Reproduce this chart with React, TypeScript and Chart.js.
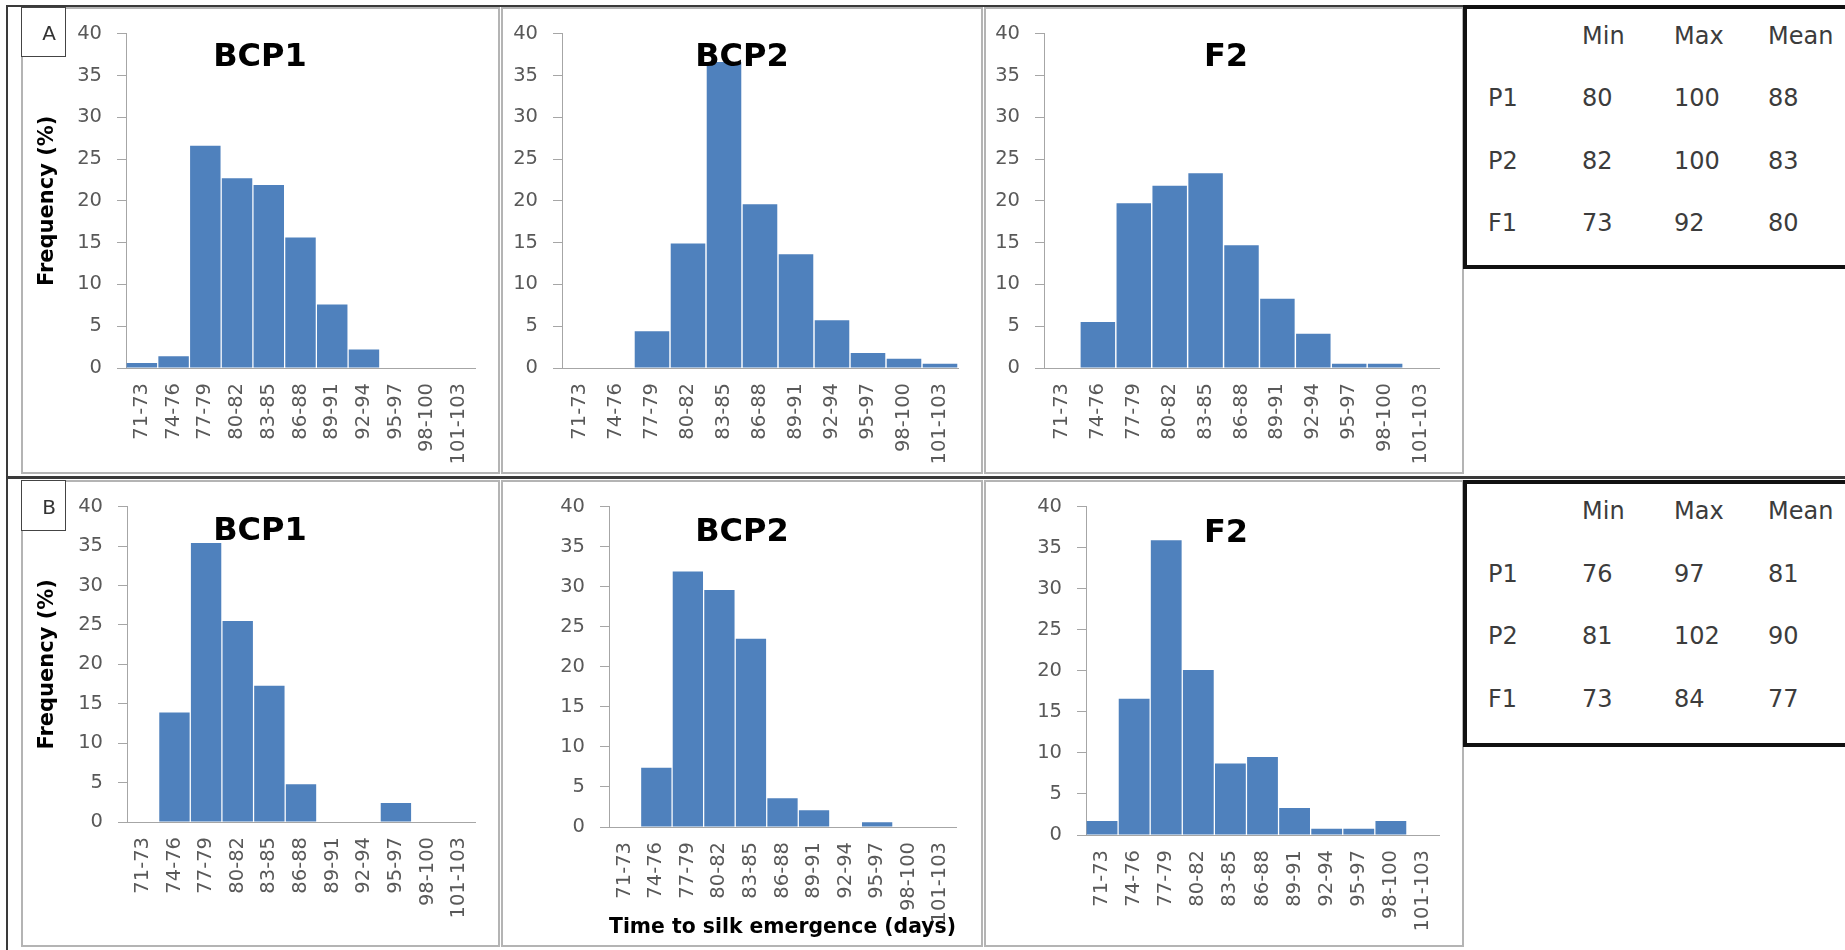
import React, { useEffect, useRef } from 'react';
import { Chart, registerables } from 'chart.js';

Chart.register(...registerables);

const FONT = "'DejaVu Sans', sans-serif";

// ---------- data ----------
const binLabels = ['71-73', '74-76', '77-79', '80-82', '83-85', '86-88', '89-91', '92-94', '95-97', '98-100', '101-103'];
const yAxisMin = 0;
const yAxisMax = 40;
const yAxisStep = 5;

const bcp1A = [0.6, 1.4, 26.6, 22.7, 21.9, 15.6, 7.6, 2.2, 0, 0, 0];
const bcp2A = [0, 0, 4.4, 14.9, 36.6, 19.6, 13.6, 5.7, 1.8, 1.1, 0.5];
const f2A = [0, 5.5, 19.7, 21.8, 23.3, 14.7, 8.3, 4.1, 0.5, 0.5, 0];
const bcp1B = [0, 13.9, 35.4, 25.5, 17.3, 4.8, 0, 0, 2.4, 0, 0];
const bcp2B = [0, 7.4, 31.9, 29.6, 23.5, 3.6, 2.1, 0, 0.6, 0, 0];
const f2B = [1.7, 16.6, 35.9, 20.1, 8.7, 9.5, 3.3, 0.75, 0.75, 1.7, 0];

const yAxisTitle = 'Frequency (%)';
const xAxisTitle = 'Time to silk emergence (days)';

const tableHeaders = ['Min', 'Max', 'Mean'];
const tableRowLabels = ['P1', 'P2', 'F1'];
const tableAValues = [[80, 100, 88], [82, 100, 83], [73, 92, 80]];
const tableBValues = [[76, 97, 81], [81, 102, 90], [73, 84, 77]];

// ---------- layout ----------
type Spec = {
  px: number; py: number; pw: number; ph: number;
  L: number; R: number; T: number; B: number;
  yTitle?: boolean; xTitle?: boolean;
  title: string; tx: number; ty: number;
  data: number[];
};

const specs: Spec[] = [
  { px: 21, py: 7, pw: 479, ph: 467, L: 126, R: 475, T: 29, B: 368, yTitle: true, title: 'BCP1', tx: 260, ty: 54, data: bcp1A },
  { px: 501, py: 7, pw: 482, ph: 467, L: 562, R: 958, T: 31, B: 368, title: 'BCP2', tx: 742, ty: 54, data: bcp2A },
  { px: 984, py: 7, pw: 480, ph: 467, L: 1044, R: 1439, T: 29, B: 368, title: 'F2', tx: 1226, ty: 54, data: f2A },
  { px: 21, py: 480, pw: 479, ph: 467, L: 127, R: 475, T: 495, B: 822, yTitle: true, title: 'BCP1', tx: 260, ty: 528, data: bcp1B },
  { px: 501, py: 480, pw: 482, ph: 467, L: 609, R: 956, T: 495, B: 827, xTitle: true, title: 'BCP2', tx: 742, ty: 529, data: bcp2B },
  { px: 984, py: 480, pw: 480, ph: 467, L: 1086, R: 1439, T: 495, B: 835, title: 'F2', tx: 1226, ty: 530, data: f2B },
];

const TICK_COLOR = '#595959';
const AXIS_COLOR = '#a6a6a6';
const BAR_COLOR = '#4f81bd';

function Histogram({ spec }: { spec: Spec }) {
  const ref = useRef<HTMLCanvasElement>(null);
  useEffect(() => {
    const { px, py, pw, ph, L, R, T, B, yTitle, xTitle, data } = spec;
    const padL = yTitle ? 48 - 16.6 - px : 4;
    const yW = L - px - padL;
    const padR = px + pw - R;
    const padT = T - py;
    const xH = py + ph - B;
    const chart = new Chart(ref.current as HTMLCanvasElement, {
      type: 'bar',
      data: {
        labels: binLabels,
        datasets: [
          {
            data,
            backgroundColor: BAR_COLOR,
            borderWidth: 0,
            barPercentage: 0.96,
            categoryPercentage: 1.0,
          },
        ],
      },
      options: {
        responsive: false,
        animation: false,
        layout: { padding: { left: padL, right: padR, top: padT, bottom: 0 } },
        plugins: { legend: { display: false }, tooltip: { enabled: false }, title: { display: false } },
        scales: {
          x: {
            type: 'category',
            grid: { display: true, drawOnChartArea: false, drawTicks: false },
            border: { display: true, color: AXIS_COLOR, width: 1 },
            ticks: {
              autoSkip: false,
              minRotation: 90,
              maxRotation: 90,
              padding: 15,
              color: TICK_COLOR,
              font: { family: FONT, size: 19.5 },
            },
            title: {
              display: !!xTitle,
              text: xAxisTitle,
              color: '#000',
              font: { family: FONT, size: 20.5, weight: 'bold' },
              padding: { top: 0, bottom: 6.7 },
            },
            afterFit: (s: any) => {
              s.height = xH;
            },
          },
          y: {
            min: yAxisMin,
            max: yAxisMax,
            ticks: {
              stepSize: yAxisStep,
              padding: 15,
              color: TICK_COLOR,
              font: { family: FONT, size: 19.5 },
            },
            grid: { drawOnChartArea: false, drawTicks: true, tickLength: 9, color: AXIS_COLOR },
            border: { display: true, color: AXIS_COLOR, width: 1 },
            title: {
              display: !!yTitle,
              text: yAxisTitle,
              color: '#000',
              font: { family: FONT, size: 21, weight: 'bold' },
              padding: { top: 4, bottom: 4 },
            },
            afterFit: (s: any) => {
              s.width = yW;
            },
          },
        },
      } as any,
    });
    return () => chart.destroy();
  }, [spec]);
  return (
    <canvas
      ref={ref}
      width={spec.pw}
      height={spec.ph}
      style={{ position: 'absolute', left: spec.px, top: spec.py, width: spec.pw, height: spec.ph }}
    />
  );
}

function Txt({ x, y, size, bold, center, color, children }: any) {
  return (
    <div
      style={{
        position: 'absolute',
        left: x,
        top: y - 0.4815 * size,
        fontFamily: FONT,
        fontSize: size,
        lineHeight: `${size}px`,
        fontWeight: bold ? 'bold' : 'normal',
        color: color || '#000',
        whiteSpace: 'nowrap',
        transform: center ? 'translateX(-50%)' : undefined,
      }}
    >
      {children}
    </div>
  );
}

function StatsTable({ top, bottom, values, rowYs }: { top: number; bottom: number; values: number[][]; rowYs: number[] }) {
  const colX = [1582, 1674, 1768];
  const labelX = 1488;
  const c = '#3c3c3c';
  return (
    <>
      <div
        style={{
          position: 'absolute',
          left: 1463,
          top,
          width: 420,
          height: bottom - top,
          border: '4px solid #111',
          boxSizing: 'border-box',
          background: '#fff',
        }}
      />
      {tableHeaders.map((h, i) => (
        <Txt key={'h' + i} x={colX[i]} y={rowYs[0]} size={24} color={c}>{h}</Txt>
      ))}
      {tableRowLabels.map((r, ri) => (
        <React.Fragment key={'r' + ri}>
          <Txt x={labelX} y={rowYs[ri + 1]} size={24} color={c}>{r}</Txt>
          {values[ri].map((v, ci) => (
            <Txt key={ci} x={colX[ci]} y={rowYs[ri + 1]} size={24} color={c}>{v}</Txt>
          ))}
        </React.Fragment>
      ))}
    </>
  );
}

export default function App() {
  return (
    <div style={{ position: 'absolute', left: 0, top: 0, width: 1845, height: 950, overflow: 'hidden', background: '#fff' }}>
      {specs.map((s, i) => (
        <Histogram key={i} spec={s} />
      ))}
      {specs.map((s, i) => (
        <div
          key={'b' + i}
          style={{
            position: 'absolute',
            left: s.px,
            top: s.py,
            width: s.pw,
            height: s.ph,
            border: '2px solid #b4b4b4',
            boxSizing: 'border-box',
            pointerEvents: 'none',
          }}
        />
      ))}
      {specs.map((s, i) => (
        <Txt key={'t' + i} x={s.tx} y={s.ty} size={32} bold center>{s.title}</Txt>
      ))}
      {/* outer frame lines */}
      <div style={{ position: 'absolute', left: 6, top: 5, width: 1845, height: 2, background: '#3a3a3a' }} />
      <div style={{ position: 'absolute', left: 6, top: 5, width: 2, height: 945, background: '#3a3a3a' }} />
      <div style={{ position: 'absolute', left: 6, top: 476, width: 1845, height: 3, background: '#3a3a3a' }} />
      {/* panel letters */}
      <div style={{ position: 'absolute', left: 21, top: 7, width: 45, height: 50, border: '1.5px solid #444', boxSizing: 'border-box', background: '#fff' }} />
      <Txt x={49} y={33} size={20} center color="#333">A</Txt>
      <div style={{ position: 'absolute', left: 21, top: 480, width: 45, height: 51, border: '1.5px solid #444', boxSizing: 'border-box', background: '#fff' }} />
      <Txt x={49} y={507} size={20} center color="#333">B</Txt>
      {/* tables */}
      <StatsTable top={5} bottom={269} values={tableAValues} rowYs={[36, 97.5, 161, 222.5]} />
      <StatsTable top={480} bottom={747} values={tableBValues} rowYs={[511, 574, 636, 699]} />
    </div>
  );
}
